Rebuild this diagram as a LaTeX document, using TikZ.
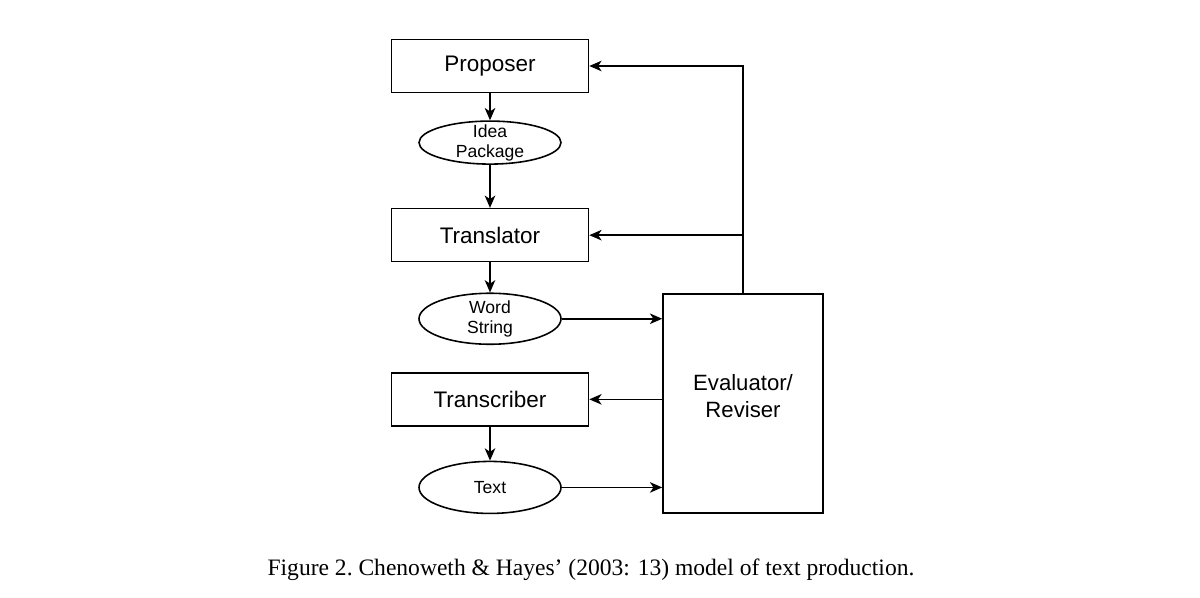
\documentclass[tikz,border=0pt]{standalone}
\usepackage{fontspec}
\setmainfont{Liberation Serif}
\setsansfont{Liberation Sans}
\usepackage{tikz}
\usetikzlibrary{positioning,shapes.geometric,arrows.meta,calc}

\begin{document}
\begin{tikzpicture}[
        b/.style={draw, line width=0.9pt, minimum width=3.94cm,
                  minimum height=1.06cm, inner sep=0pt,
                  font=\sffamily\fontsize{12.8}{15}\selectfont},
        e/.style={draw, ellipse, line width=0.9pt, minimum width=2.84cm,
                  minimum height=1.02cm, inner xsep=0pt, inner ysep=-1pt,
                  align=center, font=\sffamily\fontsize{10}{11.5}\selectfont},
        ev/.style={draw, line width=0.9pt, minimum width=3.2cm,
                  minimum height=4.38cm, inner sep=0pt, align=center,
                  text depth=0.3cm,
                  font=\sffamily\fontsize{12.6}{15.4}\selectfont},
        arr/.style={-{Stealth[length=7pt,width=6pt,inset=2pt]}, line width=0.9pt}
      ]
        \useasboundingbox (0,0) rectangle (24,-11.94);
        \node[b] (prop) at (9.8,-1.32) {Proposer};
        \node[e, below=0.54cm of prop, minimum height=0.86cm, inner ysep=-2pt]
              (idea) {Idea\\Package};
        \node[b, below=0.86cm of idea] (trans) {Translator};
        \node[e, below=0.6cm of trans] (word) {Word\\String};
        \node[b, below=0.54cm of word] (tscr) {Transcriber};
        \node[e, below=0.68cm of tscr, minimum height=1.04cm] (text) {Text};
        \node[ev] (eval) at (14.86,-8.07) {Evaluator/\\Reviser};
        \draw[arr] (prop)--(idea); \draw[arr] (idea)--(trans);
        \draw[arr] (trans)--(word); \draw[arr] (tscr)--(text);
        \draw[arr] (word.east)--(word.east -| eval.west);
        \draw[arr] (text.east)--(text.east -| eval.west);
        \draw[arr] (eval.west |- tscr.east)--(tscr.east);
        \draw[arr] (eval.north) |- (prop.east);
        \draw[arr] (eval.north |- trans.east)--(trans.east);
        \node[font=\fontsize{13.4}{16}\selectfont] (cap) at (11.82,-11.4)
              {Figure 2.\ Chenoweth \& Hayes’ (2003: 13) model of text production.};
      \end{tikzpicture}
\end{document}
